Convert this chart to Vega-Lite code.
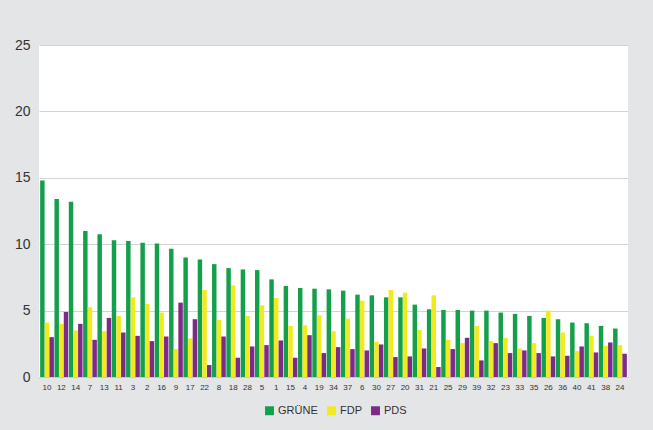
{
  "$schema": "https://vega.github.io/schema/vega-lite/v6.json",
  "width": 589,
  "height": 332,
  "autosize": {"type": "none"},
  "padding": {"left": 39, "top": 45, "right": 25, "bottom": 53},
  "background": "#e4e5e7",
  "config": {
    "view": {"fill": "white", "stroke": null},
    "font": "Liberation Sans"
  },
  "data": {
    "values": [
      {"b":"10","p":"GRÜNE","v":14.8},{"b":"10","p":"FDP","v":4.1},{"b":"10","p":"PDS","v":3.0},
      {"b":"12","p":"GRÜNE","v":13.4},{"b":"12","p":"FDP","v":4.0},{"b":"12","p":"PDS","v":4.9},
      {"b":"14","p":"GRÜNE","v":13.2},{"b":"14","p":"FDP","v":3.5},{"b":"14","p":"PDS","v":4.0},
      {"b":"7","p":"GRÜNE","v":11.0},{"b":"7","p":"FDP","v":5.25},{"b":"7","p":"PDS","v":2.8},
      {"b":"13","p":"GRÜNE","v":10.75},{"b":"13","p":"FDP","v":3.45},{"b":"13","p":"PDS","v":4.45},
      {"b":"11","p":"GRÜNE","v":10.3},{"b":"11","p":"FDP","v":4.6},{"b":"11","p":"PDS","v":3.35},
      {"b":"3","p":"GRÜNE","v":10.25},{"b":"3","p":"FDP","v":6.0},{"b":"3","p":"PDS","v":3.1},
      {"b":"2","p":"GRÜNE","v":10.1},{"b":"2","p":"FDP","v":5.5},{"b":"2","p":"PDS","v":2.7},
      {"b":"16","p":"GRÜNE","v":10.05},{"b":"16","p":"FDP","v":4.85},{"b":"16","p":"PDS","v":3.05},
      {"b":"9","p":"GRÜNE","v":9.65},{"b":"9","p":"FDP","v":2.1},{"b":"9","p":"PDS","v":5.6},
      {"b":"17","p":"GRÜNE","v":9.0},{"b":"17","p":"FDP","v":2.9},{"b":"17","p":"PDS","v":4.35},
      {"b":"22","p":"GRÜNE","v":8.85},{"b":"22","p":"FDP","v":6.55},{"b":"22","p":"PDS","v":0.9},
      {"b":"8","p":"GRÜNE","v":8.5},{"b":"8","p":"FDP","v":4.3},{"b":"8","p":"PDS","v":3.05},
      {"b":"18","p":"GRÜNE","v":8.2},{"b":"18","p":"FDP","v":6.9},{"b":"18","p":"PDS","v":1.45},
      {"b":"28","p":"GRÜNE","v":8.1},{"b":"28","p":"FDP","v":4.6},{"b":"28","p":"PDS","v":2.3},
      {"b":"5","p":"GRÜNE","v":8.05},{"b":"5","p":"FDP","v":5.4},{"b":"5","p":"PDS","v":2.4},
      {"b":"1","p":"GRÜNE","v":7.35},{"b":"1","p":"FDP","v":5.95},{"b":"1","p":"PDS","v":2.75},
      {"b":"15","p":"GRÜNE","v":6.85},{"b":"15","p":"FDP","v":3.85},{"b":"15","p":"PDS","v":1.45},
      {"b":"4","p":"GRÜNE","v":6.7},{"b":"4","p":"FDP","v":3.9},{"b":"4","p":"PDS","v":3.15},
      {"b":"19","p":"GRÜNE","v":6.65},{"b":"19","p":"FDP","v":4.65},{"b":"19","p":"PDS","v":1.8},
      {"b":"34","p":"GRÜNE","v":6.6},{"b":"34","p":"FDP","v":3.45},{"b":"34","p":"PDS","v":2.25},
      {"b":"37","p":"GRÜNE","v":6.5},{"b":"37","p":"FDP","v":4.4},{"b":"37","p":"PDS","v":2.1},
      {"b":"6","p":"GRÜNE","v":6.2},{"b":"6","p":"FDP","v":5.75},{"b":"6","p":"PDS","v":2.0},
      {"b":"30","p":"GRÜNE","v":6.15},{"b":"30","p":"FDP","v":2.65},{"b":"30","p":"PDS","v":2.45},
      {"b":"27","p":"GRÜNE","v":6.0},{"b":"27","p":"FDP","v":6.55},{"b":"27","p":"PDS","v":1.5},
      {"b":"20","p":"GRÜNE","v":6.0},{"b":"20","p":"FDP","v":6.35},{"b":"20","p":"PDS","v":1.55},
      {"b":"31","p":"GRÜNE","v":5.45},{"b":"31","p":"FDP","v":3.55},{"b":"31","p":"PDS","v":2.15},
      {"b":"21","p":"GRÜNE","v":5.1},{"b":"21","p":"FDP","v":6.15},{"b":"21","p":"PDS","v":0.75},
      {"b":"25","p":"GRÜNE","v":5.05},{"b":"25","p":"FDP","v":2.8},{"b":"25","p":"PDS","v":2.1},
      {"b":"29","p":"GRÜNE","v":5.05},{"b":"29","p":"FDP","v":2.55},{"b":"29","p":"PDS","v":2.95},
      {"b":"39","p":"GRÜNE","v":5.0},{"b":"39","p":"FDP","v":3.85},{"b":"39","p":"PDS","v":1.25},
      {"b":"32","p":"GRÜNE","v":5.0},{"b":"32","p":"FDP","v":2.7},{"b":"32","p":"PDS","v":2.55},
      {"b":"23","p":"GRÜNE","v":4.85},{"b":"23","p":"FDP","v":2.95},{"b":"23","p":"PDS","v":1.8},
      {"b":"33","p":"GRÜNE","v":4.75},{"b":"33","p":"FDP","v":2.15},{"b":"33","p":"PDS","v":2.0},
      {"b":"35","p":"GRÜNE","v":4.6},{"b":"35","p":"FDP","v":2.55},{"b":"35","p":"PDS","v":1.8},
      {"b":"26","p":"GRÜNE","v":4.45},{"b":"26","p":"FDP","v":5.0},{"b":"26","p":"PDS","v":1.55},
      {"b":"36","p":"GRÜNE","v":4.35},{"b":"36","p":"FDP","v":3.35},{"b":"36","p":"PDS","v":1.6},
      {"b":"40","p":"GRÜNE","v":4.1},{"b":"40","p":"FDP","v":1.95},{"b":"40","p":"PDS","v":2.3},
      {"b":"41","p":"GRÜNE","v":4.05},{"b":"41","p":"FDP","v":3.1},{"b":"41","p":"PDS","v":1.85},
      {"b":"38","p":"GRÜNE","v":3.85},{"b":"38","p":"FDP","v":2.35},{"b":"38","p":"PDS","v":2.6},
      {"b":"24","p":"GRÜNE","v":3.65},{"b":"24","p":"FDP","v":2.4},{"b":"24","p":"PDS","v":1.75}
    ]
  },
  "mark": {"type": "bar"},
  "encoding": {
    "x": {
      "field": "b", "type": "nominal", "sort": null,
      "scale": {"paddingInner": 0.04, "paddingOuter": 0.08},
      "axis": {"title": null, "labelAngle": 0, "labelFontSize": 8, "labelColor": "#333", "ticks": false, "domain": true, "domainColor": "#c8c8c8", "labelPadding": 6}
    },
    "xOffset": {"field": "p", "type": "nominal", "sort": ["GRÜNE", "FDP", "PDS"], "scale": {"paddingInner": 0.04}},
    "y": {
      "field": "v", "type": "quantitative",
      "scale": {"domain": [0, 25]},
      "axis": {"title": null, "values": [0, 5, 10, 15, 20, 25], "labelFontSize": 14, "labelColor": "#333", "ticks": false, "domain": false, "gridColor": "#d4d4d4", "labelPadding": 9}
    },
    "color": {
      "field": "p", "type": "nominal",
      "scale": {"domain": ["GRÜNE", "FDP", "PDS"], "range": ["#14a04a", "#f2ea1e", "#7e2a88"]},
      "legend": {
        "title": null, "orient": "none", "direction": "horizontal",
        "legendX": 225, "legendY": 360,
        "symbolType": "square", "symbolSize": 80, "symbolStrokeWidth": 0, "symbolOpacity": 1,
        "labelFontSize": 11, "labelColor": "#333", "columnPadding": 8, "labelOffset": 3
      }
    }
  }
}
